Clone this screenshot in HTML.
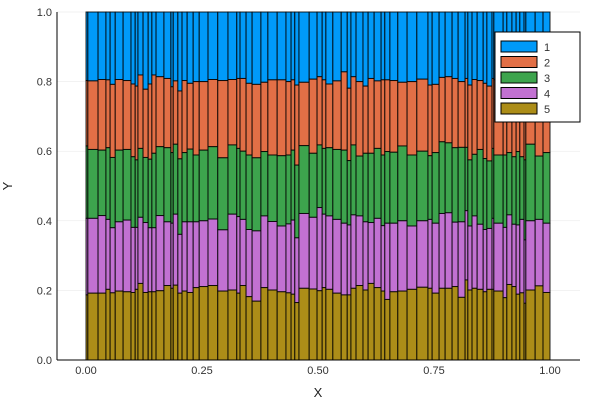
<!DOCTYPE html>
<html><head><meta charset="utf-8"><style>
body{margin:0;background:#fff}
svg{display:block;font-family:"Liberation Sans",sans-serif}
</style></head><body>
<svg id="chart" width="600" height="400">
<rect x="0" y="0" width="600" height="400" fill="#fff"/>
<g id="grid"></g>
<g id="bars"></g>
<g id="axes"></g>
<text x="318" y="397" font-size="13" text-anchor="middle" fill="#222">X</text>
<text x="12" y="186" font-size="13" text-anchor="middle" fill="#222" transform="rotate(-90 12 186)">Y</text>
<g id="legend"></g>
</svg>
<script>
const xEdges=[0,0.004,0.026,0.043,0.052,0.063,0.080,0.097,0.106,0.112,0.123,0.134,0.142,0.151,0.168,0.183,0.188,0.198,0.207,0.218,0.231,0.244,0.263,0.284,0.306,0.325,0.332,
0.345,0.358,0.377,0.392,0.412,0.431,0.442,0.450,0.459,0.481,0.498,0.509,0.517,0.532,0.550,0.563,0.571,0.582,0.597,0.608,0.621,0.636,0.644,0.655,
0.672,0.692,0.713,0.737,0.746,0.761,0.774,0.789,0.802,0.817,0.823,0.832,0.843,0.856,0.864,0.875,0.879,0.899,0.907,0.918,0.927,0.935,0.944,0.948,0.968,0.985,1.0];
// cumulative stack tops per bar
const top5=[0.187,0.192,0.192,0.203,0.193,0.198,0.196,0.194,0.203,0.220,0.194,0.196,0.196,0.199,0.214,0.206,0.215,0.192,0.198,0.194,0.208,0.211,0.214,0.198,0.201,0.192,
0.214,0.182,0.169,0.208,0.201,0.196,0.193,0.189,0.165,0.206,0.204,0.199,0.208,0.203,0.192,0.187,0.187,0.206,0.214,0.201,0.220,0.208,0.198,0.174,
0.196,0.198,0.203,0.209,0.206,0.192,0.206,0.206,0.211,0.180,0.230,0.201,0.206,0.203,0.196,0.203,0.203,0.198,0.179,0.217,0.211,0.189,0.193,0.163,0.201,0.213,0.194];
const top4=[0.407,0.407,0.415,0.404,0.380,0.397,0.402,0.381,0.381,0.410,0.395,0.380,0.380,0.415,0.397,0.393,0.419,0.361,0.397,0.397,0.397,0.400,0.405,0.374,0.419,0.412,
0.404,0.375,0.371,0.414,0.398,0.385,0.391,0.402,0.351,0.421,0.410,0.438,0.419,0.414,0.404,0.393,0.388,0.417,0.414,0.397,0.395,0.407,0.386,0.393,
0.393,0.400,0.385,0.400,0.404,0.393,0.421,0.423,0.396,0.397,0.429,0.385,0.414,0.390,0.375,0.378,0.407,0.393,0.381,0.417,0.390,0.388,0.404,0.345,0.400,0.404,0.393];
const top3=[0.615,0.605,0.603,0.610,0.582,0.603,0.605,0.584,0.575,0.608,0.582,0.577,0.594,0.613,0.610,0.596,0.620,0.578,0.596,0.606,0.589,0.603,0.613,0.581,0.618,0.608,
0.600,0.589,0.581,0.599,0.589,0.587,0.589,0.603,0.560,0.616,0.594,0.618,0.608,0.610,0.605,0.603,0.573,0.618,0.586,0.594,0.594,0.608,0.589,0.599,
0.597,0.615,0.589,0.600,0.587,0.596,0.627,0.624,0.610,0.611,0.611,0.575,0.591,0.605,0.579,0.572,0.608,0.589,0.589,0.596,0.584,0.599,0.584,0.575,0.620,0.586,0.596];
const top2=[0.803,0.802,0.806,0.805,0.792,0.806,0.803,0.793,0.787,0.819,0.778,0.793,0.819,0.814,0.809,0.785,0.802,0.773,0.803,0.795,0.800,0.800,0.806,0.803,0.806,0.809,
0.809,0.795,0.792,0.798,0.805,0.805,0.800,0.805,0.790,0.798,0.807,0.814,0.805,0.793,0.802,0.828,0.781,0.814,0.800,0.787,0.809,0.802,0.805,0.805,
0.803,0.798,0.800,0.807,0.790,0.792,0.812,0.814,0.809,0.800,0.809,0.790,0.806,0.803,0.795,0.787,0.809,0.805,0.805,0.809,0.805,0.803,0.805,0.800,0.805,0.803,0.805];
const top1=xEdges.slice(1).map(()=>1.0);
const seriesNames=["1","2","3","4","5"];
const colors=["#009af9","#e26f46","#3da44d","#c271d2","#ac8d18"];
const xTicks=[0,0.25,0.5,0.75,1.0];
const xTickLabels=["0.00","0.25","0.50","0.75","1.00"];
const yTicks=[0,0.2,0.4,0.6,0.8,1.0];
const yTickLabels=["0.0","0.2","0.4","0.6","0.8","1.0"];

const NS="http://www.w3.org/2000/svg";
const L=57,R=580,T=12,B=360;
const sx=v=>86+v*464;
const sy=v=>B-v*(B-T);
function mk(tag,attrs,parent){const e=document.createElementNS(NS,tag);for(const k in attrs)e.setAttribute(k,attrs[k]);parent.appendChild(e);return e;}
const grid=document.getElementById('grid'),bars=document.getElementById('bars'),axes=document.getElementById('axes'),legend=document.getElementById('legend');
xTicks.forEach((t,i)=>{
  const g=mk('line',{x1:sx(t),x2:sx(t),y1:T,y2:B,stroke:'#000','stroke-opacity':0.1,'stroke-width':0.5},grid);
  
  
  const tx=mk('text',{x:sx(t),y:B+14,'font-size':11,'text-anchor':'middle',fill:'#333'},axes);
  tx.textContent=xTickLabels[i];
  
  
});
yTicks.forEach((t,i)=>{
  const g=mk('line',{x1:L,x2:R,y1:sy(t),y2:sy(t),stroke:'#000','stroke-opacity':0.1,'stroke-width':0.5},grid);
  
  
  const tx=mk('text',{x:L-5,y:sy(t)+4,'font-size':11,'text-anchor':'end',fill:'#333'},axes);
  tx.textContent=yTickLabels[i];
  
  
});
const tops=[top1,top2,top3,top4,top5];
for(let i=0;i<xEdges.length-1;i++){
  const x0=sx(xEdges[i]),x1=sx(xEdges[i+1]);
  for(let s=0;s<5;s++){
    const hi=tops[s][i], lo=s<4?tops[s+1][i]:0;
    const r=mk('rect',{x:x0,y:sy(hi),width:Math.max(x1-x0,0.5),height:sy(lo)-sy(hi),fill:colors[s],stroke:'#000','stroke-width':1,'stroke-opacity':0.85},bars);
    
    
  }
}
const ax=mk('line',{x1:L,x2:R,y1:B,y2:B,stroke:'#000','stroke-width':1},axes);


const ay=mk('line',{x1:L,x2:L,y1:T,y2:B,stroke:'#000','stroke-width':1},axes);


const lb=mk('rect',{x:495,y:32,width:85,height:90,fill:'#fff',stroke:'#000','stroke-width':1},legend);


seriesNames.forEach((n,i)=>{
  const y=41+i*15.5;
  const sw=mk('rect',{x:501,y:y,width:36,height:11,fill:colors[i],stroke:'#000','stroke-width':1},legend);
  
  
  const t=mk('text',{x:544,y:y+10,'font-size':11,fill:'#333'},legend);
  t.textContent=n;
  
  
});
</script>
</body></html>
